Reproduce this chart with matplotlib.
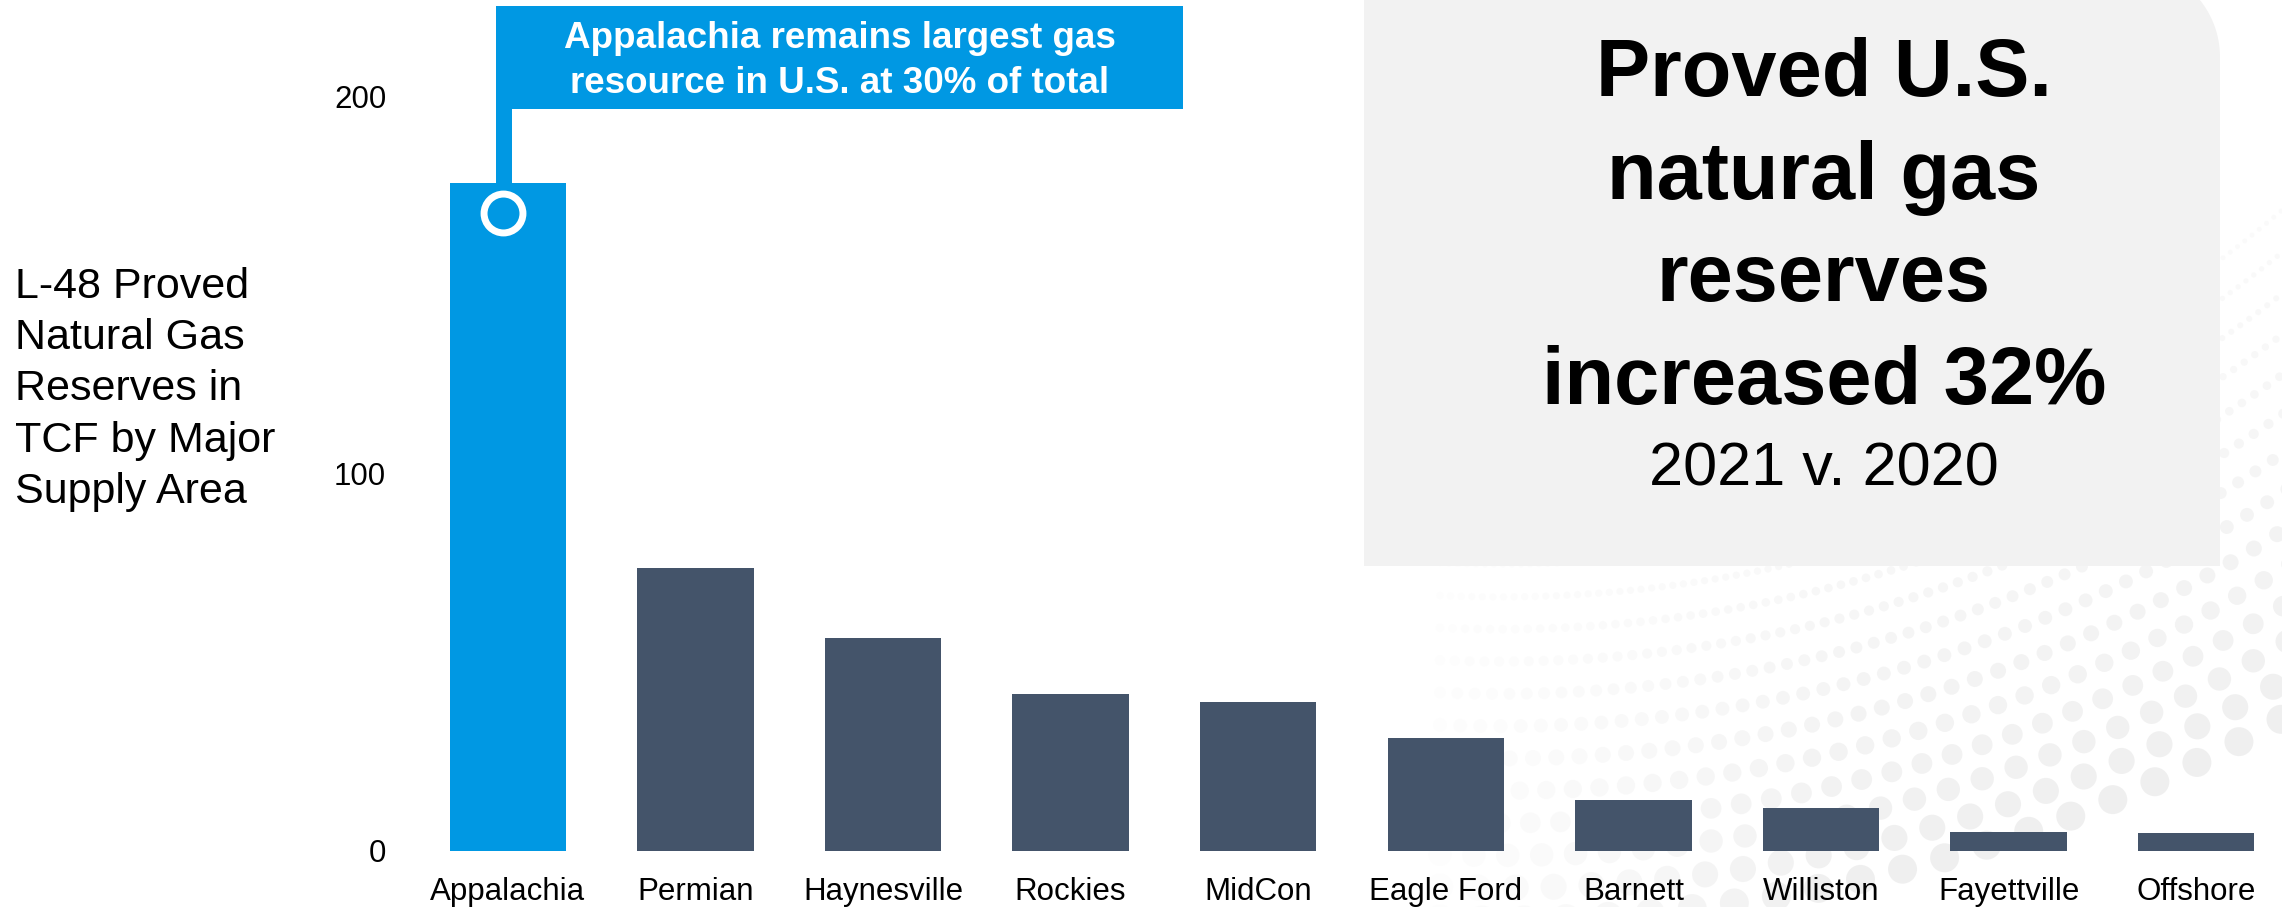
import numpy as np
import matplotlib.pyplot as plt
from matplotlib.patches import Rectangle

plt.rcParams['font.family'] = ['Liberation Sans', 'DejaVu Sans']

# data (TCF)
areas = ['Appalachia', 'Permian', 'Haynesville', 'Rockies', 'MidCon',
         'Eagle Ford', 'Barnett', 'Williston', 'Fayettville', 'Offshore']
reserves = [177, 75, 56.5, 41.5, 39.5, 30, 13.6, 11.3, 5.1, 4.9]
yticks = [0, 100, 200]

ylabel_lines = ['L-48 Proved', 'Natural Gas', 'Reserves in', 'TCF by Major', 'Supply Area']
title_lines = ['Proved U.S.', 'natural gas', 'reserves', 'increased 32%']
subtitle = '2021 v. 2020'
callout_lines = ['Appalachia remains largest gas', 'resource in U.S. at 30% of total']

blue = '#0098E3'
slate = '#44546A'
W, H = 2282, 907

fig = plt.figure(figsize=(W / 100, H / 100), dpi=100)

# background layer in pixel coords (y down)
bg = fig.add_axes([0, 0, 1, 1], zorder=0)
bg.set_xlim(0, W)
bg.set_ylim(H, 0)
bg.axis('off')

# faint dot swoosh, bottom right (decoration only)
cx, cy = 1500, -700
for k, R in enumerate(np.linspace(1200, 1620, 14)):
    frac = k / 13
    d = 5 + 24 * frac ** 1.6          # dot diameter in px
    step = d * 1.45
    xs = np.arange(1440, W + step, step)
    inside = R ** 2 - (xs - cx) ** 2
    ok = inside > 0
    xs = xs[ok]
    ys = cy + np.sqrt(inside[ok])
    keep = (ys < H + 20)
    xs, ys = xs[keep], ys[keep]
    fade = np.clip((xs - 1440) / 400, 0, 1) * (0.2 + 0.8 * frac)
    cols = [(0.935, 0.935, 0.935, 0.1 + 0.8 * f) for f in fade]
    bg.scatter(xs, ys, s=(d * 0.72) ** 2, c=cols, marker='o', linewidths=0)

# grey panel with rounded top-right corner
r, px0, px1, py1 = 91, 1364, 2220, 566
t = np.linspace(np.pi / 2, 0, 30)
arc_x = px1 - r + r * np.cos(t)
arc_y = (-34 + r) - r * np.sin(t)
bg.fill(np.r_[px0, px0, arc_x, px1, px0], np.r_[py1, -34, arc_y, py1, py1],
        color='#F2F2F2', lw=0)

# bars
ax = fig.add_axes([414 / W, 1 - 851 / H, 1 - 414 / W, 851 / H], zorder=1)
ax.set_facecolor('none')
x = np.arange(len(areas))
colors = [blue] + [slate] * (len(areas) - 1)
ax.bar(x, reserves, width=0.62, color=colors)
ax.set_xlim(-0.5, -0.5 + (W - 414) / 187.6)
ax.set_ylim(0, 851 / 3.775)
ax.set_xticks(x)
ax.set_xticklabels(areas)
ax.set_yticks(yticks)
ax.tick_params(axis='x', length=0, labelsize=22.5, pad=19)
ax.tick_params(axis='y', length=0, labelsize=22.5, pad=20)
for s in ax.spines.values():
    s.set_visible(False)

# callout on the Appalachia bar
box_bottom = 196.6
ax.add_patch(Rectangle((-0.064, box_bottom), 3.662, 27.3, color=blue, lw=0, clip_on=False))
ax.add_patch(Rectangle((-0.064, reserves[0] - 1), 0.085, box_bottom - reserves[0] + 1,
                       color=blue, lw=0))
ax.plot(-0.027, reserves[0] - 8, marker='o', ms=28, mfc='none', mec='white', mew=5)
for i, line in enumerate(callout_lines):
    fig.text(840 / W, 1 - (48 + i * 45) / H, line, ha='center', va='baseline',
             color='white', fontsize=26.5, fontweight='bold', zorder=5)

# left axis title
for i, line in enumerate(ylabel_lines):
    fig.text(15 / W, 1 - (298 + i * 51.2) / H, line, fontsize=31, va='baseline')

# headline in the grey panel
for i, line in enumerate(title_lines):
    fig.text(1824 / W, 1 - (96 + i * 102.7) / H, line, fontsize=58.5,
             fontweight='bold', ha='center', va='baseline')
fig.text(1824 / W, 1 - 485 / H, subtitle, fontsize=44, ha='center', va='baseline')

fig.savefig('out.png', dpi=100)
